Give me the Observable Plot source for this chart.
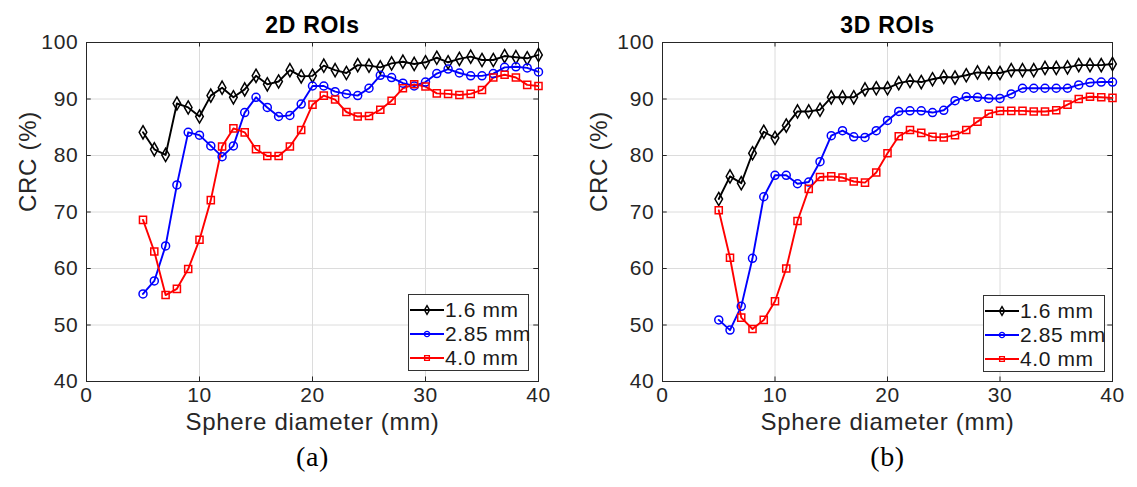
<!DOCTYPE html>
<html>
<head>
<meta charset="utf-8">
<script src="https://cdn.jsdelivr.net/npm/d3@7"></script>
<script src="https://cdn.jsdelivr.net/npm/@observablehq/plot@0.6"></script>
<style>
  html, body { margin: 0; padding: 0; background: #fff; }
  #wrap { position: relative; width: 1137px; height: 487px; overflow: hidden; font-family: "Liberation Sans", Arial, sans-serif; }
  .panel { position: absolute; top: 0; }
  .legend { position: absolute; background: #fff; border: 1px solid #333; box-sizing: border-box; }
  .legend .row { position: absolute; left: 0; height: 24px; display: flex; align-items: center; white-space: nowrap; }
  .legend .row span { font-size: 21px; color: #1a1a1a; letter-spacing: 0.6px; margin-left: 0px; white-space: nowrap; }
</style>
</head>
<body>
<div id="wrap"></div>
<script>
// ---- data ----
const diameters = [5,6,7,8,9,10,11,12,13,14,15,16,17,18,19,20,21,22,23,24,25,26,27,28,29,30,31,32,33,34,35,36,37,38,39,40];
const seriesNames = ["1.6 mm", "2.85 mm", "4.0 mm"];
const seriesColors = ["#000000", "#0000ff", "#ff0000"];
const seriesSymbols = ["diamond", "circle", "square"];

const crc2D_16  = [84.1,81.1,80.1,89.2,88.5,86.9,90.6,92.0,90.3,91.7,94.1,92.6,93.1,95.1,94.0,94.1,95.9,95.1,94.6,96.0,95.9,95.6,96.3,96.6,96.2,96.5,97.3,96.5,97.1,97.5,96.9,96.9,97.6,97.4,97.2,97.8];
const crc2D_285 = [55.5,57.8,64.0,74.8,84.1,83.6,81.7,79.8,81.7,87.6,90.3,88.5,86.9,87.1,89.1,92.3,92.3,91.3,90.9,90.6,91.9,94.2,93.8,92.8,92.3,93.0,94.5,95.3,94.6,94.1,94.1,94.5,95.6,95.7,95.5,94.8];
const crc2D_40  = [68.6,63.0,55.3,56.4,59.9,65.1,72.1,81.6,84.8,84.1,81.1,79.9,79.9,81.6,84.5,89.0,90.6,89.9,87.7,86.9,87.0,88.1,89.7,91.9,92.6,92.2,91.0,90.9,90.7,90.9,91.6,93.8,94.3,93.8,92.5,92.3];

const crc3D_16  = [72.3,76.3,75.1,80.4,84.2,83.1,85.3,87.8,87.8,88.1,90.3,90.3,90.3,91.7,91.9,91.9,92.8,93.2,93.0,93.5,93.9,93.8,94.2,94.7,94.6,94.6,95.1,95.1,95.1,95.5,95.5,95.6,96.0,96.0,96.0,96.2];
const crc3D_285 = [50.9,49.1,53.3,61.8,72.7,76.5,76.5,75.0,75.3,78.9,83.5,84.4,83.3,83.2,84.4,86.2,87.8,87.9,87.9,87.6,88.0,89.7,90.4,90.3,90.1,90.1,90.9,91.9,91.9,91.9,91.9,91.9,92.5,92.9,93.0,93.0];
const crc3D_40  = [70.3,61.9,51.3,49.3,50.9,54.2,60.0,68.4,74.1,76.2,76.3,76.1,75.4,75.2,77.0,80.4,83.4,84.5,84.0,83.3,83.2,83.6,84.5,86.0,87.4,87.9,87.9,87.9,87.8,87.8,88.0,89.0,90.0,90.4,90.3,90.2];

const xTicks = [0, 10, 20, 30, 40];
const yTicks = [40, 50, 60, 70, 80, 90, 100];
const panelTitles = ["2D ROIs", "3D ROIs"];
const panelTags = ["(a)", "(b)"];
const xLabel = "Sphere diameter (mm)";
const yLabel = "CRC (%)";

function toRows(values) {
  const rows = [];
  values.forEach((vals, s) => vals.forEach((v, i) => rows.push({d: diameters[i], crc: v, series: seriesNames[s]})));
  return rows;
}

const panels = [
  {rows: toRows([crc2D_16, crc2D_285, crc2D_40]), title: panelTitles[0], tag: panelTags[0],
   left: 0, width: 568, mL: 86, mR: 30, ylDx: -58, legend: {left: 408, top: 294, w: 121, h: 77}},
  {rows: toRows([crc3D_16, crc3D_285, crc3D_40]), title: panelTitles[1], tag: panelTags[1],
   left: 568, width: 569, mL: 94, mR: 25, ylDx: -63, legend: {left: 983, top: 295, w: 122, h: 77}}
];

const wrap = document.getElementById("wrap");
const font = "Liberation Sans, Arial, sans-serif";
const axisColor = "#262626";

panels.forEach(p => {
  const chart = Plot.plot({
    width: p.width, height: 487,
    marginLeft: p.mL, marginRight: p.mR, marginTop: 42, marginBottom: 106,
    style: {fontFamily: font, background: "transparent", color: axisColor, overflow: "visible"},
    x: {domain: [0, 40]},
    y: {domain: [40, 100]},
    color: {domain: seriesNames, range: seriesColors},
    symbol: {domain: seriesNames, range: seriesSymbols},
    marks: [
      Plot.gridX(xTicks.slice(1, -1), {stroke: "#dcdcdc", strokeOpacity: 1, strokeWidth: 1}),
      Plot.gridY(yTicks.slice(1, -1), {stroke: "#dcdcdc", strokeOpacity: 1, strokeWidth: 1}),
      // inward ticks on all four sides
      Plot.ruleY(yTicks.slice(1, -1), {x1: 0, x2: 0.42, stroke: axisColor, strokeWidth: 1}),
      Plot.ruleY(yTicks.slice(1, -1), {x1: 39.58, x2: 40, stroke: axisColor, strokeWidth: 1}),
      Plot.ruleX(xTicks.slice(1, -1), {y1: 40, y2: 40.8, stroke: axisColor, strokeWidth: 1}),
      Plot.ruleX(xTicks.slice(1, -1), {y1: 99.2, y2: 100, stroke: axisColor, strokeWidth: 1}),
      Plot.frame({stroke: axisColor, strokeWidth: 1}),
      Plot.axisX({ticks: xTicks, tickSize: 0, tickPadding: 6, fontSize: 21, label: null, fill: axisColor}),
      Plot.axisY({ticks: yTicks, tickSize: 0, tickPadding: 8, fontSize: 21, label: null, fill: axisColor}),
      Plot.line(p.rows, {x: "d", y: "crc", stroke: "series", z: "series", strokeWidth: 1.9}),
      Plot.dot(p.rows, {x: "d", y: "crc", stroke: "series", symbol: "series", r: 4, strokeWidth: 1.5, fill: "none"}),
      Plot.text([p.title], {frameAnchor: "top", dy: -26, fontSize: 23, fontWeight: "bold", fill: "#000"}),
      Plot.text([xLabel], {frameAnchor: "bottom", dy: 48, fontSize: 24, fill: axisColor}),
      Plot.text([p.tag], {frameAnchor: "bottom", dy: 84, fontSize: 28, fill: "#000", fontFamily: "Liberation Serif, Times New Roman, serif"}),
      Plot.text([yLabel], {frameAnchor: "left", dx: p.ylDx, rotate: -90, fontSize: 24, fill: axisColor})
    ]
  });
  chart.querySelectorAll("text").forEach(t => t.setAttribute("letter-spacing", "0.7"));
  const div = document.createElement("div");
  div.className = "panel";
  div.style.left = p.left + "px";
  div.appendChild(chart);
  wrap.appendChild(div);

  // legend
  const lg = document.createElement("div");
  lg.className = "legend";
  lg.style.left = p.legend.left + "px";
  lg.style.top = p.legend.top + "px";
  lg.style.width = p.legend.w + "px";
  lg.style.height = p.legend.h + "px";
  seriesNames.forEach((name, i) => {
    const row = document.createElement("div");
    row.className = "row";
    row.style.top = (3 + i * 24) + "px";
    const svg = d3.create("svg").attr("width", 36).attr("height", 24);
    svg.append("line").attr("x1", 1).attr("x2", 35).attr("y1", 12).attr("y2", 12)
      .attr("stroke", seriesColors[i]).attr("stroke-width", 1.9);
    const sym = {diamond: d3.symbolDiamond, circle: d3.symbolCircle, square: d3.symbolSquare}[seriesSymbols[i]];
    svg.append("path").attr("d", d3.symbol(sym, 22)()).attr("transform", "translate(18,12)")
      .attr("fill", "none").attr("stroke", seriesColors[i]).attr("stroke-width", 1.4);
    row.appendChild(svg.node());
    const sp = document.createElement("span");
    sp.textContent = name;
    row.appendChild(sp);
    lg.appendChild(row);
  });
  wrap.appendChild(lg);
});
</script>
</body>
</html>
